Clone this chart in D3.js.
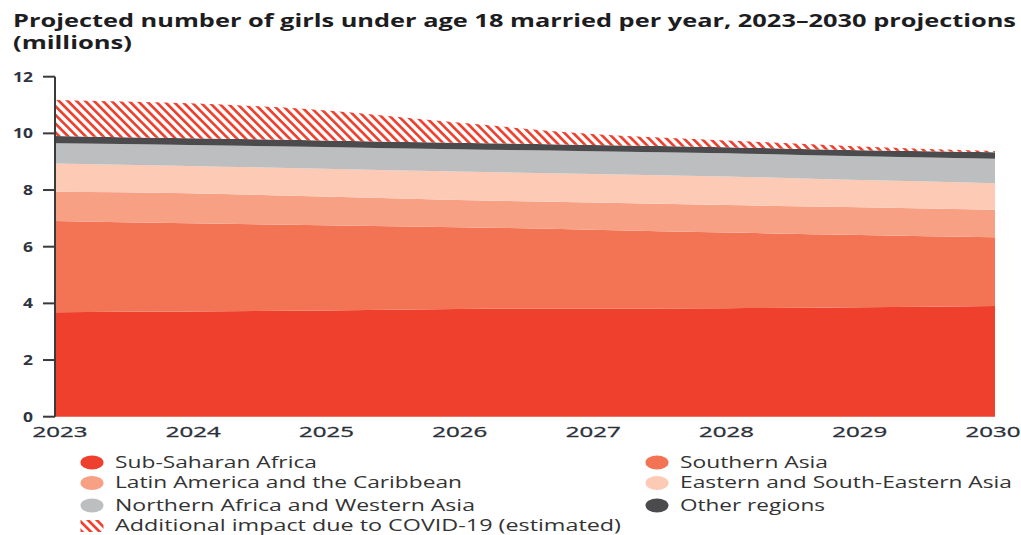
<!DOCTYPE html>
<html>
<head>
<meta charset="utf-8">
<script src="https://cdn.jsdelivr.net/npm/d3@7"></script>
<style>
  body { margin: 0; background: #fff; }
  svg { display: block; font-family: "Open Sans", "Noto Sans", sans-serif; }
</style>
</head>
<body>
<div class="graph"></div>
<script>
// Girls married under 18, stacked area by region, 2023-2030 (millions)

var years = [2023, 2024, 2025, 2026, 2027, 2028, 2029, 2030];
var subSaharan   = [3.69, 3.71, 3.75, 3.80, 3.82, 3.83, 3.86, 3.91];
var southernAsia = [3.22, 3.12, 3.01, 2.89, 2.78, 2.67, 2.55, 2.42];
var latinAmerica = [1.03, 1.06, 1.01, 0.96, 0.96, 0.97, 0.98, 0.97];
var easternAsia  = [1.00, 0.96, 0.98, 1.00, 1.01, 1.01, 0.96, 0.94];
var northAfrica  = [0.71, 0.74, 0.77, 0.79, 0.80, 0.82, 0.84, 0.86];
var otherRegions = [0.26, 0.24, 0.23, 0.23, 0.22, 0.21, 0.21, 0.23];
var covidImpact  = [1.27, 1.23, 1.07, 0.71, 0.39, 0.24, 0.14, 0.05];
var yTicks = [0, 2, 4, 6, 8, 10, 12];

var seriesNames = ["Sub-Saharan Africa", "Southern Asia", "Latin America and the Caribbean",
                   "Eastern and South-Eastern Asia", "Northern Africa and Western Asia",
                   "Other regions", "Additional impact due to COVID-19 (estimated)"];
var seriesValues = [subSaharan, southernAsia, latinAmerica, easternAsia, northAfrica, otherRegions, covidImpact];
var keys = ["ssa", "sas", "lac", "esea", "nawa", "other", "covid"];
var colors = ["#ee402c", "#f27454", "#f8a083", "#fccab5", "#bcbec0", "#4b4b4d", "url(#hatch)"];

var width = 1021, height = 535;

var svg = d3.select('.graph').append('svg')
    .attr('width', width)
    .attr('height', height);

// hatch pattern for the covid band
var defs = svg.append('defs');
var pat = defs.append('pattern')
    .attr('id', 'hatch')
    .attr('patternUnits', 'userSpaceOnUse')
    .attr('width', 6.2)
    .attr('height', 6.2)
    .attr('patternTransform', 'rotate(-45)');
pat.append('rect').attr('width', 6.2).attr('height', 6.2).attr('fill', '#fff');
pat.append('rect').attr('width', 2.7).attr('height', 6.2).attr('fill', '#ef4130');

// title
var title = svg.append('g').attr('fill', '#1d1d1f').attr('font-weight', 700).attr('font-size', '18px');
title.append('text').attr('x', 13).attr('y', 27)
    .attr('textLength', 1003).attr('lengthAdjust', 'spacingAndGlyphs')
    .text('Projected number of girls under age 18 married per year, 2023\u20132030 projections');
title.append('text').attr('x', 13).attr('y', 49)
    .attr('textLength', 119).attr('lengthAdjust', 'spacingAndGlyphs')
    .text('(millions)');

// scales
var x = d3.scaleLinear().domain([2023, 2030]).range([55, 995]);
var y = d3.scaleLinear().domain([0, 12]).range([416.7, 76.7]);

// build table for the stack
var table = years.map(function(yr, i) {
    var row = { year: yr };
    keys.forEach(function(k, j) { row[k] = seriesValues[j][i]; });
    return row;
});

var stack = d3.stack().keys(keys);
var layers = stack(table);

var area = d3.area()
    .curve(d3.curveMonotoneX)
    .x(function(d) { return x(d.data.year); })
    .y0(function(d) { return y(d[0]); })
    .y1(function(d) { return y(d[1]); });

svg.append('g').selectAll('path')
    .data(layers)
    .enter()
    .append('path')
    .attr('d', area)
    .attr('fill', function(d, i) { return colors[i]; });

// y axis
var yAxis = svg.append('g').attr('transform', 'translate(55,0)');
yAxis.append('line')
    .attr('x1', 0).attr('x2', 0)
    .attr('y1', y(12)).attr('y2', y(0))
    .attr('stroke', '#3a3a3c').attr('stroke-width', 2);
var yt = yAxis.selectAll('.tick').data(yTicks).enter().append('g')
    .attr('transform', function(d) { return 'translate(0,' + y(d) + ')'; });
yt.append('line').attr('x1', -12).attr('x2', 0).attr('stroke', '#3a3a3c').attr('stroke-width', 2);
yt.append('text')
    .attr('x', -22).attr('dy', '0.36em')
    .attr('text-anchor', 'end')
    .attr('font-size', '14px').attr('font-weight', 700)
    .attr('fill', '#2e3440')
    .attr('textLength', function(d) { return d >= 10 ? 20 : 10; })
    .attr('lengthAdjust', 'spacingAndGlyphs')
    .text(function(d) { return d; });

// x labels
var xLab = d3.scalePoint().domain(years).range([59.5, 992.5]);
svg.append('g').selectAll('text')
    .data(years).enter().append('text')
    .attr('x', function(d) { return xLab(d) - 27; })
    .attr('y', 437)
    .attr('font-size', '15px').attr('font-weight', 400)
    .attr('fill', '#2a2f3a')
    .attr('stroke', '#2a2f3a').attr('stroke-width', 0.3)
    .attr('textLength', 55).attr('lengthAdjust', 'spacingAndGlyphs')
    .text(function(d) { return d; });

// legend
var legendItems = [
    { i: 0, col: 0, row: 0, w: 202 },
    { i: 1, col: 1, row: 0, w: 148 },
    { i: 2, col: 0, row: 1, w: 347 },
    { i: 3, col: 1, row: 1, w: 332 },
    { i: 4, col: 0, row: 2, w: 360 },
    { i: 5, col: 1, row: 2, w: 145 },
    { i: 6, col: 0, row: 3, w: 506 }
];
var rowY = [462.5, 483, 505.5, 526];
var colX = [92, 657];

var leg = svg.append('g').selectAll('g')
    .data(legendItems).enter().append('g')
    .attr('transform', function(d) { return 'translate(' + colX[d.col] + ',' + rowY[d.row] + ')'; });

leg.filter(function(d) { return d.i < 6; })
    .append('ellipse')
    .attr('rx', 11.5).attr('ry', 7)
    .attr('fill', function(d) { return colors[d.i]; });

leg.filter(function(d) { return d.i === 6; })
    .append('rect')
    .attr('x', -11.5).attr('y', -6).attr('width', 23).attr('height', 12)
    .attr('fill', 'url(#hatch)');

leg.append('text')
    .attr('x', 23).attr('dy', '0.35em')
    .attr('font-size', '15.5px')
    .attr('fill', '#333')
    .attr('textLength', function(d) { return d.w; })
    .attr('lengthAdjust', 'spacingAndGlyphs')
    .text(function(d) { return seriesNames[d.i]; });
</script>
</body>
</html>
